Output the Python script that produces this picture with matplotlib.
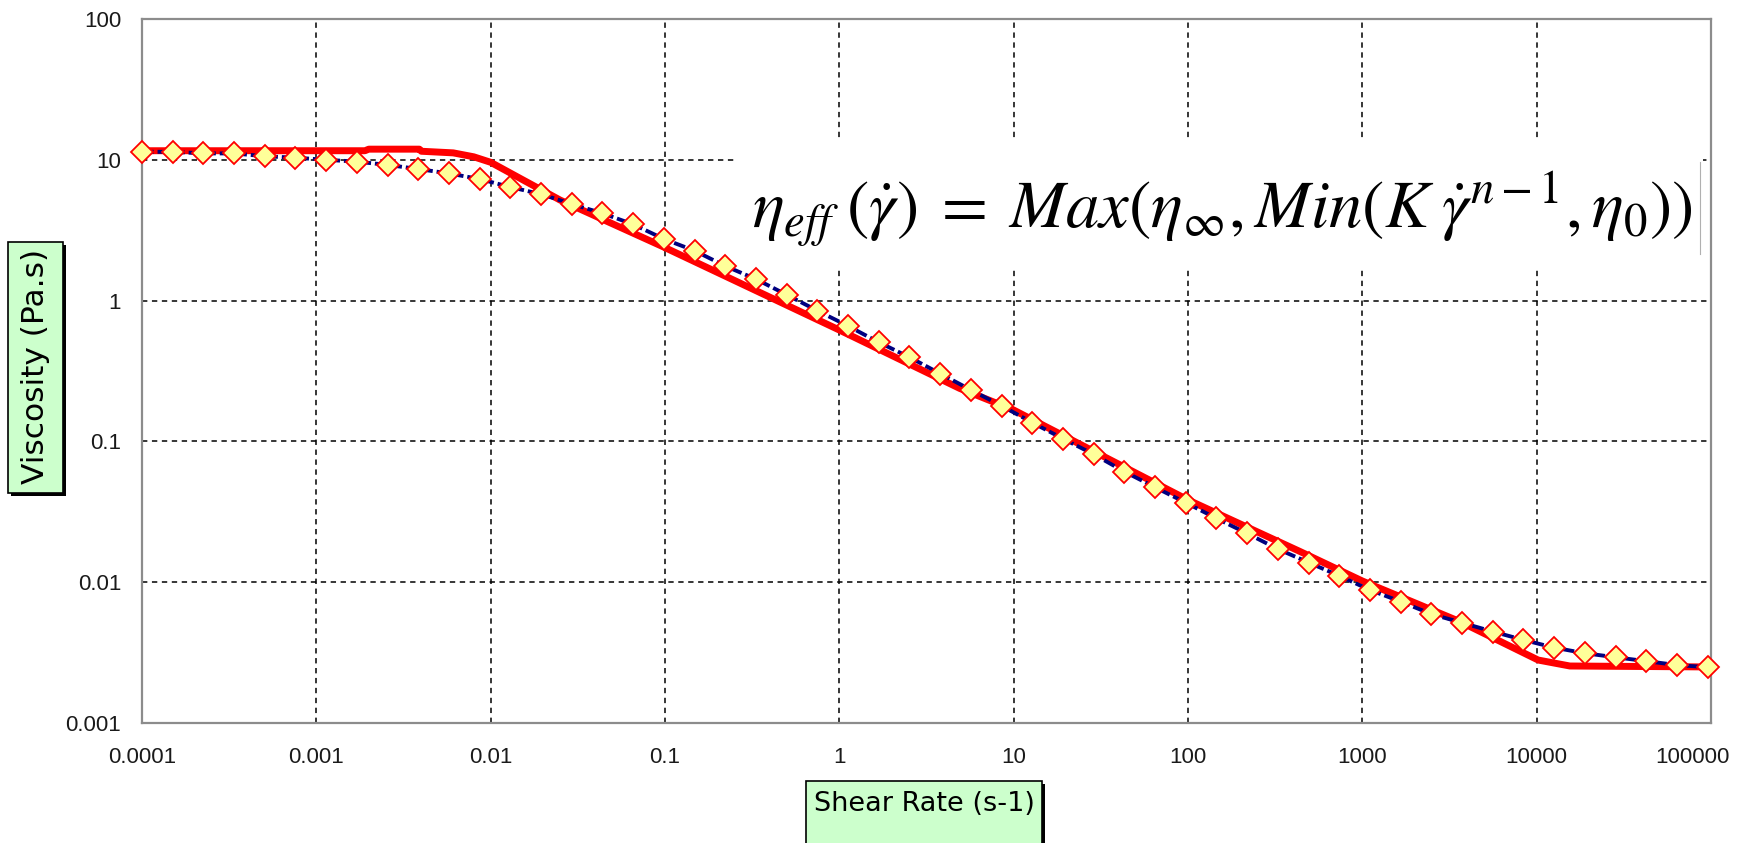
import numpy as np
import matplotlib
matplotlib.use('Agg')
import matplotlib.pyplot as plt
import matplotlib.transforms as mtransforms
from matplotlib.patches import Rectangle

# measured points (diamonds + dashed blue fit)
shear_rate = [0.0001, 0.00015, 0.000225, 0.0003375, 0.00050625, 0.0007594,
              0.001139, 0.001709, 0.002563, 0.003844, 0.005767, 0.00865,
              0.012975, 0.01946, 0.02919, 0.04379, 0.06568, 0.09853,
              0.1478, 0.2217, 0.3325, 0.4988, 0.7482, 1.122, 1.683, 2.525,
              3.788, 5.682, 8.523, 12.78, 19.18, 28.76, 43.15, 64.72, 97.08,
              145.6, 218.4, 327.6, 491.5, 737.2, 1105.8, 1658.7, 2488, 3732,
              5598, 8397, 12596, 18894, 28341, 42511, 63767, 95650]
viscosity = [11.4, 11.4, 11.1, 11.1, 10.6, 10.35, 10.0, 9.7, 9.2, 8.6,
             8.0, 7.3, 6.4, 5.7, 4.85, 4.17, 3.48, 2.74, 2.26, 1.76,
             1.42, 1.10, 0.848, 0.660, 0.506, 0.396, 0.303, 0.232, 0.179, 0.136,
             0.1045, 0.081, 0.061, 0.0472, 0.0367, 0.0284, 0.0222, 0.0172, 0.0138, 0.0111,
             0.00881, 0.00728, 0.00594, 0.00515, 0.00446, 0.00389, 0.00343, 0.00313, 0.00293, 0.00275,
             0.00258, 0.00249]

# red model curve (Max/Min power law)
model_rate = [0.0001, 0.0019, 0.002, 0.0039, 0.004, 0.0061, 0.008, 0.01, 0.015, 0.025,
              0.0977, 1.0, 4.9, 10, 100, 440, 1000, 3630, 10200, 15500, 100000]
model_visc = [11.6, 11.6, 11.9, 11.9, 11.5, 11.2, 10.5, 9.6, 7.3, 5.18,
              2.41, 0.618, 0.238, 0.167, 0.0384, 0.0165, 0.0102, 0.00525, 0.0028, 0.00254, 0.0025]

x_ticks = [0.0001, 0.001, 0.01, 0.1, 1, 10, 100, 1000, 10000, 100000]
x_tick_labels = ['0.0001', '0.001', '0.01', '0.1', '1', '10', '100', '1000', '10000', '100000']
y_ticks = [0.001, 0.01, 0.1, 1, 10, 100]
y_tick_labels = ['0.001', '0.01', '0.1', '1', '10', '100']

W, H = 1763, 843
fig = plt.figure(figsize=(W / 100, H / 100), dpi=100)
ax = fig.add_axes([142 / W, 1 - 723 / H, (1711 - 142) / W, (723 - 19) / H])

ax.set_xscale('log')
ax.set_yscale('log')
ax.set_xlim(1e-4, 1e5)
ax.set_ylim(1e-3, 1e2)

ax.set_xticks(x_ticks)
ax.set_xticklabels(x_tick_labels)
ax.set_yticks(y_ticks)
ax.set_yticklabels(y_tick_labels)
ax.minorticks_off()
ax.tick_params(length=0, labelsize=16, labelcolor='#1a1a1a')
ax.tick_params(axis='x', pad=17)
ax.tick_params(axis='y', pad=15)
for lab in ax.get_xticklabels() + ax.get_yticklabels():
    lab.set_fontfamily('Liberation Sans')
# last x label is pulled back inside like the original
last = ax.get_xticklabels()[-1]
last.set_horizontalalignment('right')
last.set_transform(last.get_transform() + mtransforms.ScaledTranslation(0.19, 0, fig.dpi_scale_trans))

ax.grid(True, which='major', color='black', linestyle=(0, (3.5, 3)), linewidth=1.1)
for sp in ax.spines.values():
    sp.set_color('#8c8c8c')
    sp.set_linewidth(1.6)

# white box behind the equation (hides the grid)
ax.add_patch(Rectangle((737 / W, 1 - 268 / H), (1703 - 737) / W, 128 / H,
                       transform=fig.transFigure, facecolor='white',
                       edgecolor='none', zorder=1.8))
ax.plot([1700 / W, 1700 / W], [1 - 162 / H, 1 - 254 / H], transform=fig.transFigure,
        color='#b0b0b0', lw=0.8, zorder=1.9)

ax.plot(model_rate, model_visc, color='#ff0000', lw=5, zorder=3,
        solid_joinstyle='round', solid_capstyle='butt')
ax.plot(shear_rate, viscosity, color='#000080', lw=2.8, linestyle=(0, (3, 1)),
        zorder=4, clip_on=False)
ax.plot(shear_rate, viscosity, linestyle='none', marker='D', markersize=11,
        markerfacecolor='#ffff99', markeredgecolor='#ff0000', markeredgewidth=1.3,
        zorder=5, clip_on=False)

plt.rcParams['mathtext.fontset'] = 'stix'
fig.text(752 / W, 1 - 228 / H,
         r'$\eta_{eff}\;(\dot{\gamma})\;=\;Max(\eta_{\infty},Min(K\;\dot{\gamma}^{n-1},\eta_0))$',
         fontsize=48, ha='left', va='baseline')

# axis title boxes: green with black drop shadow
def label_box(x0, y0, x1, y1):
    fig.patches.append(Rectangle((x0 / W + 3 / W, 1 - y1 / H - 3 / H), (x1 - x0) / W, (y1 - y0) / H,
                                 transform=fig.transFigure, facecolor='black',
                                 edgecolor='none', figure=fig))
    fig.patches.append(Rectangle((x0 / W, 1 - y1 / H), (x1 - x0) / W, (y1 - y0) / H,
                                 transform=fig.transFigure, facecolor='#ccffcc',
                                 edgecolor='black', lw=1.2, figure=fig))

label_box(8, 242, 63, 493)
fig.text(36 / W, 1 - 366 / H, 'Viscosity (Pa.s)', rotation=90,
         ha='center', va='center', fontsize=22.5, fontfamily='DejaVu Sans')
label_box(806, 781, 1042, 860)
fig.text(924 / W, 1 - 804 / H, 'Shear Rate (s-1)',
         ha='center', va='center', fontsize=19.5, fontfamily='DejaVu Sans')

fig.savefig('out.png', dpi=100, facecolor='white')
